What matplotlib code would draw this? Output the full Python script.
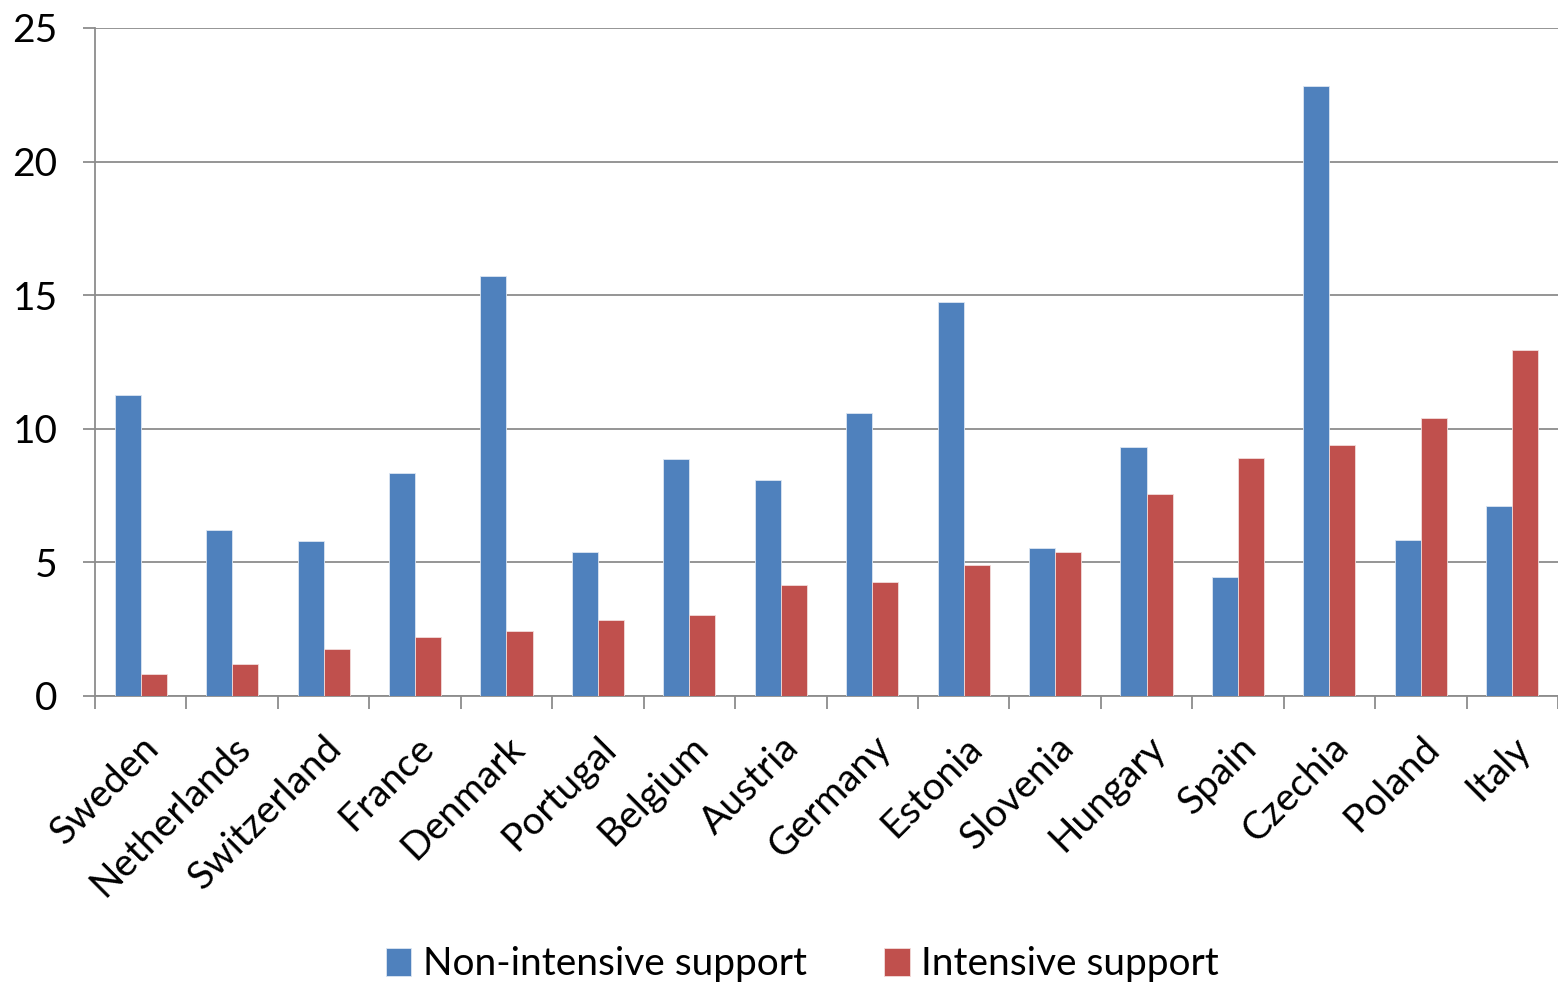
import numpy as np
import matplotlib.pyplot as plt

plt.rcParams['font.family'] = ['Lato', 'DejaVu Sans']

# Datos por país
paises = ["Sweden", "Netherlands", "Switzerland", "France", "Denmark",
          "Portugal", "Belgium", "Austria", "Germany", "Estonia",
          "Slovenia", "Hungary", "Spain", "Czechia", "Poland", "Italy"]
no_intensivo = [11.26, 6.21, 5.8, 8.35, 15.72, 5.39, 8.87, 8.08,
                10.59, 14.75, 5.54, 9.32, 4.45, 22.83, 5.84, 7.11]
intensivo = [0.82, 1.2, 1.76, 2.2, 2.43, 2.84, 3.03, 4.15,
             4.27, 4.9, 5.39, 7.56, 8.9, 9.39, 10.4, 12.95]

azul = "#4F81BD"
rojo = "#C0504D"
gris = "#8C8C8C"

fig = plt.figure(figsize=(15.58, 9.83), dpi=100)
ax = fig.add_axes([95 / 1558, 1 - 696 / 983, 1 - 95 / 1558, (696 - 28) / 983])

x = np.arange(len(paises))
ancho = 0.285
ax.bar(x - ancho / 2, no_intensivo, ancho, color=azul,
       edgecolor="#DCE6F2", linewidth=0.6, label="Non-intensive support", zorder=3)
ax.bar(x + ancho / 2, intensivo, ancho, color=rojo,
       edgecolor="#F2DCDB", linewidth=0.6, label="Intensive support", zorder=3)

ax.set_xlim(-0.5, len(paises) - 0.5)
ax.set_ylim(0, 25)
ax.set_yticks(np.arange(0, 26, 5))
ax.yaxis.grid(True, color=gris, linewidth=1.3, zorder=0)

for lado in ["top", "right"]:
    ax.spines[lado].set_visible(False)
for lado in ["left", "bottom"]:
    ax.spines[lado].set_color(gris)
    ax.spines[lado].set_linewidth(1.3)

# Marcas del eje x en los límites entre categorías
ax.set_xticks(np.arange(-0.5, len(paises), 1.0))
ax.set_xticklabels([])
ax.tick_params(axis="x", length=9, width=1.3, color=gris)
ax.set_xticks(x, minor=True)
ax.set_xticklabels(paises, minor=True, rotation=45, ha="right",
                   rotation_mode="anchor", fontsize=28)
ax.tick_params(axis="x", which="minor", length=0, pad=24)

ax.tick_params(axis="y", length=9, width=1.3, color=gris, labelsize=28, pad=18)

fig.legend(loc="lower center", bbox_to_anchor=(0.515, -0.035), ncol=2,
           frameon=False, fontsize=28, handlelength=0.65, handleheight=0.75,
           columnspacing=2.0, handletextpad=0.3)

fig.savefig("out.png", dpi=100)
